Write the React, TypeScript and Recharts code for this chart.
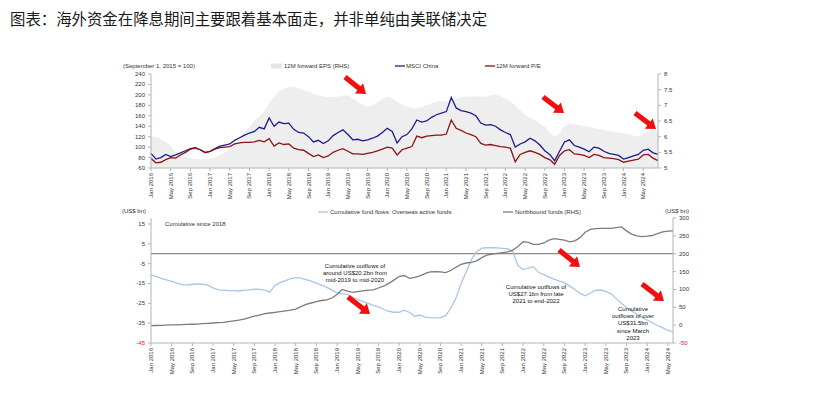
import React from 'react';
import { ComposedChart, LineChart, Line, Area, XAxis, YAxis, ReferenceLine } from 'recharts';

// ---------- data ----------
// month index 0 = Jan 2016
const xTickMonths = [0, 4, 8, 12, 16, 20, 24, 28, 32, 36, 40, 44, 48, 52, 56, 60, 64, 68, 72, 76, 80, 84, 88, 92, 96, 100];
const xTickLabels = [
  'Jan 2016', 'May 2016', 'Sep 2016', 'Jan 2017', 'May 2017', 'Sep 2017', 'Jan 2018', 'May 2018', 'Sep 2018',
  'Jan 2019', 'May 2019', 'Sep 2019', 'Jan 2020', 'May 2020', 'Sep 2020', 'Jan 2021', 'May 2021', 'Sep 2021',
  'Jan 2022', 'May 2022', 'Sep 2022', 'Jan 2023', 'May 2023', 'Sep 2023', 'Jan 2024', 'May 2024',
];

// Top panel (Jan 2016 - Aug 2024, monthly)
const msciChina = [
  88, 77, 80, 86, 82, 85, 89, 93, 97, 99,
  95, 90, 92, 97, 102, 104, 106, 113, 118, 123,
  127, 130, 138, 135, 156, 140, 148, 145, 146, 134,
  128, 127, 120, 110, 113, 107, 112, 122, 128, 133,
  124, 114, 115, 112, 114, 117, 121, 128, 136, 130,
  108, 120, 124, 135, 152, 148, 150, 157, 162, 165,
  168, 195, 175, 170, 168, 165, 160, 146, 142, 143,
  140, 133, 128, 124, 100, 106, 110, 117, 112, 104,
  93, 86, 74, 92, 110, 114, 103, 100, 96, 91,
  100, 98, 92, 88, 86, 84, 77, 80, 83, 86,
  94, 96, 89, 86,
];
const forwardPE = [
  78, 70, 71, 76, 80, 79, 85, 90, 96, 98,
  95, 89, 92, 96, 99, 100, 101, 106, 108, 109,
  109, 110, 113, 110, 116, 102, 108, 105, 106, 98,
  95, 94, 88, 82, 85, 80, 83, 90, 94, 97,
  92, 87, 87, 86, 88, 90, 93, 96, 100, 98,
  85, 95, 98, 101, 121, 118, 121, 122, 123, 123,
  125, 152, 136, 132, 127, 124, 120, 107, 104, 105,
  103, 101, 100, 98, 72, 86, 90, 93, 90, 86,
  80, 76, 67, 84, 93, 95, 87, 86, 84, 80,
  86, 84, 80, 79, 78, 76, 71, 73, 75, 77,
  85, 86, 79, 74,
];
const forwardEPS = [
  6.0, 6.0, 5.92, 5.84, 5.7, 5.52, 5.42, 5.36, 5.32, 5.29,
  5.28, 5.29, 5.29, 5.33, 5.41, 5.5, 5.6, 5.73, 5.95, 6.15,
  6.32, 6.5, 6.65, 6.8, 7.05, 7.28, 7.45, 7.54, 7.58, 7.6,
  7.54, 7.48, 7.44, 7.38, 7.32, 7.28, 7.26, 7.27, 7.28, 7.3,
  7.33, 7.22, 7.12, 7.02, 6.96, 7.0, 7.1, 7.2, 7.28, 7.22,
  7.12, 7.03, 6.96, 6.92, 6.9, 6.95, 7.0, 7.06, 7.12, 7.12,
  7.12, 7.17, 7.22, 7.25, 7.28, 7.28, 7.28, 7.28, 7.28, 7.32,
  7.35, 7.3, 7.2, 7.12, 7.0, 6.85, 6.69, 6.6, 6.53, 6.42,
  6.32, 6.15, 6.0, 6.12, 6.35, 6.43, 6.4, 6.37, 6.34, 6.32,
  6.28, 6.24, 6.21, 6.18, 6.16, 6.14, 6.1, 6.08, 6.04, 6.0,
  6.08, 6.16, 6.2, 6.21,
];

// Bottom panel (Jan 2016 - Jun 2024, monthly)
const overseasActiveFlows = [
  -10.7, -11.6, -12.4, -13.2, -13.9, -14.8, -15.6, -15.8, -15.4, -15.2,
  -15.4, -15.8, -17.2, -18.2, -18.4, -18.6, -18.6, -18.8, -18.4, -18.2,
  -17.9, -18.0, -18.3, -19.4, -16.0, -14.6, -13.6, -12.6, -12.1, -12.3,
  -13.0, -13.8, -14.8, -15.8, -17.0, -18.2, -19.8, -20.2, -20.5, -21.8,
  -23.2, -24.0, -25.0, -26.0, -26.8, -28.0, -29.0, -29.5, -29.5, -28.5,
  -29.5, -31.5, -30.9, -32.0, -32.2, -32.3, -32.2, -31.2, -27.5, -22.5,
  -15.0, -9.0, -3.0, 1.0, 2.8, 3.0, 3.0, 2.9, 2.7, 2.5,
  1.0, -6.0, -8.0, -7.2, -6.5, -9.5, -10.5, -11.8, -12.8, -13.8,
  -14.6, -16.2, -18.0, -20.0, -21.2, -19.8, -18.5, -18.3, -19.0, -20.2,
  -22.5, -25.0, -27.0, -28.8, -30.5, -32.0, -33.4, -34.8, -36.2, -37.4,
  -38.6, -39.3,
];
const northboundFlows = [
  -1.5, -1, -0.5, 0, 0.5, 1, 1.5, 2, 2.5, 3,
  4, 5, 6, 7, 8, 10, 12, 14, 17, 21,
  25, 28, 32, 34, 36, 38, 40, 42, 45, 52,
  58, 62, 66, 69, 71, 76, 86, 100, 95, 92,
  94, 96, 98, 99, 104, 109, 117, 126, 136, 139,
  131, 134, 138, 144, 149, 150, 149, 147, 153, 162,
  170, 174, 176, 180, 189, 196, 199, 201, 203, 205,
  210, 220, 234, 232, 226, 226, 230, 238, 242, 240,
  238, 233, 236, 245, 260, 268, 270, 271, 271, 271,
  273, 275, 264, 255, 250, 248, 249, 251, 256, 261,
  263, 264,
];

const topLeftTicks = [60, 80, 100, 120, 140, 160, 180, 200, 220, 240];
const topRightTicks = [5, 5.5, 6, 6.5, 7, 7.5, 8];
const botLeftTicks = [-45, -35, -25, -15, -5, 5, 15];
const botRightTicks = [-50, 0, 50, 100, 150, 200, 250, 300];

const topData = msciChina.map((v, i) => ({ m: i, msci: v, pe: forwardPE[i], eps: forwardEPS[i] }));
const botData = overseasActiveFlows.map((v, i) => ({ m: i, flows: v, north: northboundFlows[i] }));

// ---------- styles ----------
const FONT = '"Liberation Sans", Arial, sans-serif';
const NAVY = '#1c1c8e';
const DARKRED = '#8c1414';
const LIGHTBLUE = '#a9c5e8';
const GRAY = '#7c7c7c';
const AXIS = '#b4b4b4';
const TXT = '#333';
const YW = 30; // y-axis width

const XTick = (props: any) => {
  const { x, y, payload } = props;
  const idx = xTickMonths.indexOf(payload.value);
  const label = idx >= 0 ? xTickLabels[idx] : '';
  return (
    <text x={x} y={y} transform={`rotate(-90 ${x} ${y})`} textAnchor="end" dominantBaseline="central"
      fontSize={6} fontFamily={FONT} fill={TXT}>{label}</text>
  );
};

const YTick = (props: any) => {
  const { x, y, payload, textAnchor, redBelow } = props;
  const v = payload.value;
  const red = redBelow !== undefined && v <= redBelow;
  return (
    <text x={x} y={y} textAnchor={textAnchor} dominantBaseline="central" fontSize={6} fontFamily={FONT}
      fill={red ? '#e8141e' : TXT}>{String(v)}</text>
  );
};

const arrows = [
  [345, 77, 366, 94],
  [543, 97, 564, 113],
  [635, 113, 656, 129],
  [348, 297, 370, 314],
  [559, 250, 580, 267],
  [642, 284, 664, 301],
];

function arrowPoints(sx: number, sy: number, ex: number, ey: number) {
  const len = Math.hypot(ex - sx, ey - sy);
  const dx = (ex - sx) / len, dy = (ey - sy) / len;
  const nx = -dy, ny = dx;
  const w = 2.6, W = 6.5, hl = 9;
  const hx = ex - dx * hl, hy = ey - dy * hl;
  const pts = [
    [sx + nx * w, sy + ny * w],
    [hx + nx * w, hy + ny * w],
    [hx + nx * W, hy + ny * W],
    [ex, ey],
    [hx - nx * W, hy - ny * W],
    [hx - nx * w, hy - ny * w],
    [sx - nx * w, sy - ny * w],
  ];
  return pts.map((p) => p.join(',')).join(' ');
}

const annotations = [
  { x: 355, y: 265.5, lines: ['Cumulative outflows of', 'around US$20.2bn from', 'mid-2019 to mid-2020'] },
  { x: 536, y: 287, lines: ['Cumulative outflows of', 'US$27.1bn from late', '2021 to end-2022'] },
  { x: 633, y: 309, lines: ['Cumulative', 'outflows of over', 'US$31.5bn', 'since March', '2023'] },
];

export default function App() {
  return (
    <div style={{ position: 'absolute', left: 0, top: 0, width: 819, height: 398, background: '#fff', overflow: 'hidden' }}>
      <div style={{ position: 'absolute', left: 0, top: 0 }}>
        <ComposedChart width={819} height={210} data={topData} margin={{ top: 74, right: 161 - YW, bottom: 12, left: 151 - YW }}>
          <XAxis dataKey="m" type="number" domain={[0, 103]} ticks={xTickMonths} interval={0} height={30}
            tick={<XTick />} tickSize={3} tickMargin={2} stroke={AXIS} />
          <YAxis yAxisId="left" width={YW} domain={[60, 240]} ticks={topLeftTicks} interval={0} tickSize={3} tickMargin={3}
            stroke={AXIS} tick={<YTick />} />
          <YAxis yAxisId="right" orientation="right" width={YW} domain={[5, 8]} ticks={topRightTicks} interval={0}
            tickSize={3} tickMargin={3} stroke={AXIS} tick={<YTick />} />
          <Area yAxisId="right" dataKey="eps" type="linear" fill="#eeeeee" fillOpacity={1} stroke="none" isAnimationActive={false} />
          <Line yAxisId="left" dataKey="msci" type="linear" stroke={NAVY} strokeWidth={1.3} dot={false} isAnimationActive={false} />
          <Line yAxisId="left" dataKey="pe" type="linear" stroke={DARKRED} strokeWidth={1.3} dot={false} isAnimationActive={false} />
        </ComposedChart>
      </div>
      <div style={{ position: 'absolute', left: 0, top: 0 }}>
        <LineChart width={819} height={398} data={botData} margin={{ top: 218, right: 146 - YW, bottom: 25, left: 151 - YW }}>
          <XAxis dataKey="m" type="number" domain={[0, 101]} ticks={xTickMonths} interval={0} height={30}
            tick={<XTick />} tickSize={3} tickMargin={2} stroke={AXIS} />
          <YAxis yAxisId="left" width={YW} domain={[-45, 18]} ticks={botLeftTicks} interval={0} tickSize={3} tickMargin={3}
            stroke={AXIS} tick={<YTick redBelow={-45} />} />
          <YAxis yAxisId="right" orientation="right" width={YW} domain={[-50, 300]} ticks={botRightTicks} interval={0}
            tickSize={3} tickMargin={3} stroke={AXIS} tick={<YTick redBelow={-50} />} />
          <ReferenceLine yAxisId="left" y={0} stroke="#6e6e6e" strokeWidth={1} />
          <Line yAxisId="left" dataKey="flows" type="linear" stroke={LIGHTBLUE} strokeWidth={1.3} dot={false} isAnimationActive={false} />
          <Line yAxisId="right" dataKey="north" type="linear" stroke={GRAY} strokeWidth={1.3} dot={false} isAnimationActive={false} />
        </LineChart>
      </div>
      <svg width={819} height={398} style={{ position: 'absolute', left: 0, top: 0, pointerEvents: 'none' }}>
        <text x={10} y={25} fontSize={15.4} fontFamily='"Noto Sans CJK SC", sans-serif' fill="#1a1a1a">
          图表：海外资金在降息期间主要跟着基本面走，并非单纯由美联储决定
        </text>
        <g fontFamily={FONT} fontSize={6} fill={TXT}>
          <text x={123} y={66} dominantBaseline="central">(September 1, 2015 = 100)</text>
          <rect x={271} y={63.5} width={11} height={5} fill="#e4e4e4" />
          <text x={284} y={66} dominantBaseline="central">12M forward EPS (RHS)</text>
          <line x1={395} x2={405} y1={66} y2={66} stroke={NAVY} strokeWidth={1.3} />
          <text x={406} y={66} dominantBaseline="central">MSCI China</text>
          <line x1={485} x2={495} y1={66} y2={66} stroke={DARKRED} strokeWidth={1.3} />
          <text x={496} y={66} dominantBaseline="central">12M forward P/E</text>

          <text x={122} y={211} dominantBaseline="central">(US$ bn)</text>
          <text x={665} y={211} dominantBaseline="central">(US$ bn)</text>
          <line x1={318} x2={328} y1={212} y2={212} stroke={LIGHTBLUE} strokeWidth={1.3} />
          <text x={330} y={212} dominantBaseline="central">Cumulative fund flows: Overseas active funds</text>
          <line x1={503} x2={513} y1={212} y2={212} stroke={GRAY} strokeWidth={1.3} />
          <text x={515} y={212} dominantBaseline="central">Northbound funds (RHS)</text>
          <text x={165} y={224} dominantBaseline="central">Cumulative since 2018</text>

          {annotations.map((a, i) => (
            <g key={i}>
              {a.lines.map((l, j) => (
                <text key={j} x={a.x} y={a.y + j * 7.2} textAnchor="middle" dominantBaseline="central" fill="#111">{l}</text>
              ))}
            </g>
          ))}
        </g>
        {arrows.map((a, i) => (
          <polygon key={i} points={arrowPoints(a[0], a[1], a[2], a[3])} fill="#f20f0f" />
        ))}
      </svg>
    </div>
  );
}
